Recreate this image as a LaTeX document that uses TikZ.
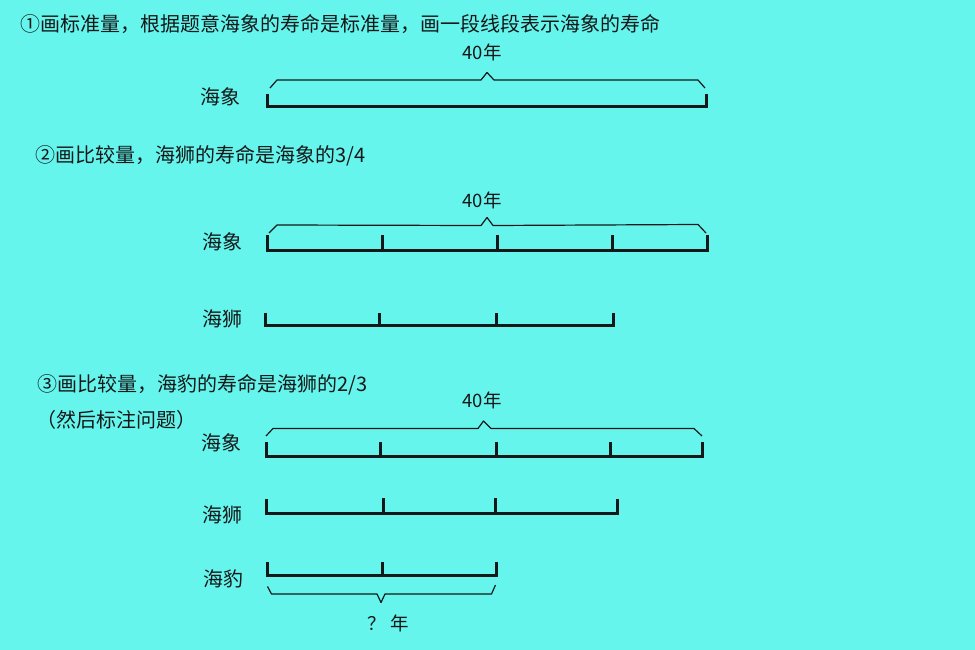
\documentclass[tikz,border=0pt]{standalone}
\usepackage{fontspec}
\setmainfont{Noto Sans CJK SC}
\definecolor{bgcyan}{RGB}{102,245,237}
\definecolor{inkdark}{RGB}{20,24,24}

\begin{document}
\begin{tikzpicture}[x=1pt,y=-1pt,
  segbar/.style={line width=3pt,inkdark,line join=miter},
  bracepath/.style={line width=1.2pt,inkdark,line join=round},
  head/.style={anchor=west,inner sep=0pt,text=inkdark,font=\fontsize{20}{24}\selectfont},
  lbl/.style={inner sep=0pt,text=inkdark,font=\fontsize{20}{22}\selectfont},
  total/.style={inner sep=0pt,text=inkdark,font=\fontsize{18.5}{20}\selectfont}]

\fill[bgcyan] (0,0) rectangle (975,650);
\useasboundingbox (0,0) rectangle (975,650);

% step 1
\node[head] (step1) at (20,24) {①画标准量，根据题意海象的寿命是标准量，画一段线段表示海象的寿命};
\node[total] (forty1) at (482,52) {40年};
\draw[bracepath] (270,88)--(277,80)--(481,80)--(487,72.5)--(494,80)--(698,80)--(705,88);
\node[lbl] (xiang1) at (220,97) {海象};
\draw[segbar] (267,94)--(267,107)--(706,107)--(706,94);

% step 2
\node[head] (step2) at (35,156) {②画比较量，海狮的寿命是海象的3/4};
\node[total] (forty2) at (482,200) {40年};
\draw[bracepath] (269,233)--(277,225)--(481,225.5)--(487,217.5)--(493,225.5)--(698,224.5)--(706,233);
\node[lbl] (xiang2) at (222,242) {海象};
\draw[segbar] (267,235)--(267,250)--(707,250)--(707,235);
\draw[segbar] (382,250)--(382,235) (497,250)--(497,235) (612.5,250)--(612.5,235);
\node[lbl] (shi2) at (222,319) {海狮};
\draw[segbar] (265,312.5)--(265,325.5)--(613,325.5)--(613,312.5);
\draw[segbar] (379.5,325.5)--(379.5,312.5) (496,325.5)--(496,312.5);

% step 3
\node[head] (step3) at (37,385) {③画比较量，海豹的寿命是海狮的2/3};
\node[head] (note3) at (36,420) {（然后标注问题）};
\node[total] (forty3) at (482,400) {40年};
\draw[bracepath] (266,436)--(273,428.5)--(478,428.5)--(483.5,421)--(491,428.5)--(694,428.5)--(702,436);
\node[lbl] (xiang3) at (221,443) {海象};
\draw[segbar] (266,442)--(266,456)--(702,456)--(702,442);
\draw[segbar] (380,456)--(380,442) (496,456)--(496,442) (610.5,456)--(610.5,442);
\node[lbl] (shi3) at (222,515) {海狮};
\draw[segbar] (266,499)--(266,513)--(617,513)--(617,499);
\draw[segbar] (383,513)--(383,498) (495.5,513)--(495.5,498);
\node[lbl] (bao3) at (223,579) {海豹};
\draw[segbar] (267,562)--(267,575)--(496.5,575)--(496.5,562);
\draw[segbar] (382.5,575)--(382.5,562);
\draw[bracepath] (267.5,586.5)--(271.5,594)--(377,594)--(381,602.5)--(385,594)--(491.5,594)--(495.5,585);
\node[total] (ask3) at (388,623) {？ 年};
\end{tikzpicture}
\end{document}
